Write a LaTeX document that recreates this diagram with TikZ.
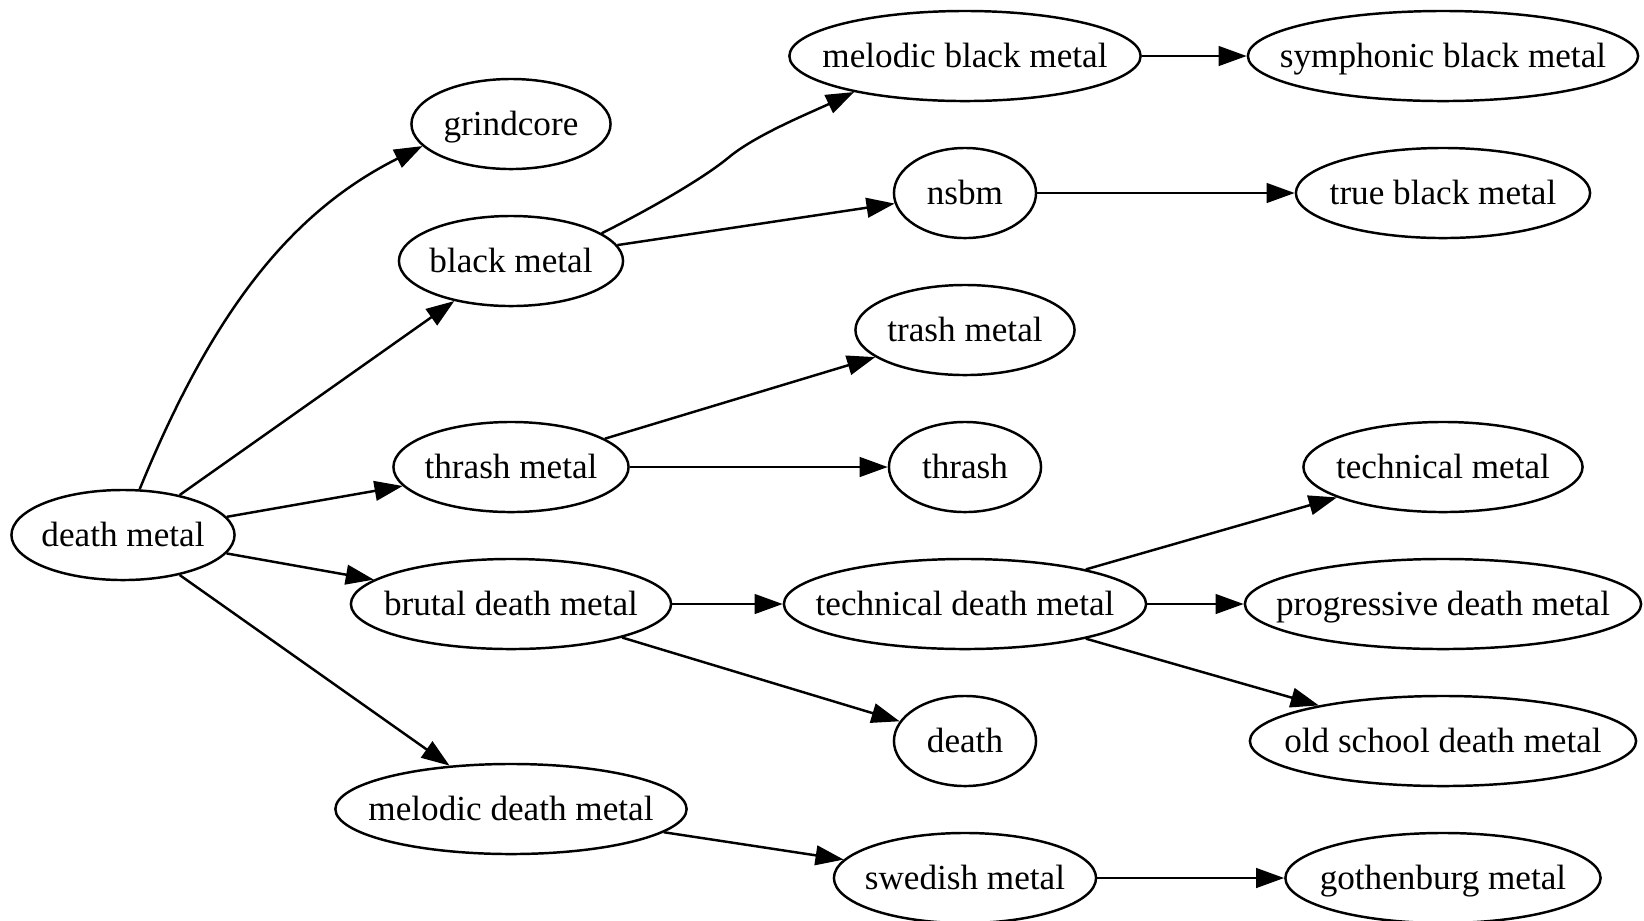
\documentclass[tikz,border=0pt]{standalone}
\usepackage{fontspec}
\setmainfont{Liberation Serif}
\usepackage{tikz}
\usetikzlibrary{arrows.meta, shapes.geometric}

\newcommand{\genrelabel}[1]{\makebox[0pt]{\rule[-2.7pt]{0pt}{12pt}#1}}

\begin{document}
\begin{tikzpicture}[x=0.01cm, y=-0.01cm,
  genre/.style={ellipse, draw, line width=0.7pt, inner sep=0pt,
    minimum height=0.9cm, minimum width=#1, font=\fontsize{10}{12}\selectfont},
  edge/.style={line width=0.7pt, -{Triangle[length=8pt, width=5.6pt]}}]
  \useasboundingbox (0,0) rectangle (1644,920);

  % Root
  \node[genre=2.23cm] (dm) at (123,535) {\genrelabel{death metal}};

  % First level
  \node[genre=1.99cm] (gc) at (511,124) {\genrelabel{grindcore}};
  \node[genre=2.24cm] (bm) at (511,261) {\genrelabel{black metal}};
  \node[genre=2.35cm] (tm) at (511,467) {\genrelabel{thrash metal}};
  \node[genre=3.20cm] (bdm) at (511,604) {\genrelabel{brutal death metal}};
  \node[genre=3.51cm] (mdm) at (511,809) {\genrelabel{melodic death metal}};

  % Second level
  \node[genre=3.51cm] (mbm) at (965,56) {\genrelabel{melodic black metal}};
  \node[genre=1.42cm] (nsbm) at (965,193) {\genrelabel{nsbm}};
  \node[genre=2.19cm] (trm) at (965,330) {\genrelabel{trash metal}};
  \node[genre=1.52cm] (thr) at (965,467) {\genrelabel{thrash}};
  \node[genre=3.62cm] (tdm) at (965,604) {\genrelabel{technical death metal}};
  \node[genre=1.42cm] (dth) at (965,741) {\genrelabel{death}};
  \node[genre=2.62cm] (swm) at (965,878) {\genrelabel{swedish metal}};

  % Third level
  \node[genre=3.90cm] (sbm) at (1443,56) {\genrelabel{symphonic black metal}};
  \node[genre=2.94cm] (tbm) at (1443,193) {\genrelabel{true black metal}};
  \node[genre=2.79cm] (tcm) at (1443,467) {\genrelabel{technical metal}};
  \node[genre=3.96cm] (pdm) at (1443,604) {\genrelabel{progressive death metal}};
  \node[genre=3.86cm] (osdm) at (1443,741) {\genrelabel{old school death metal}};
  \node[genre=3.15cm] (gbm) at (1443,878) {\genrelabel{gothenburg metal}};

  % Edges from death metal
  \draw[edge] (dm.70) .. controls (215,305) and (295,210) .. (gc.194);
  \draw[edge] (dm) -- (bm);
  \draw[edge] (dm) -- (tm);
  \draw[edge] (dm) -- (bdm);
  \draw[edge] (dm) -- (mdm);

  % Edges from the first level
  \draw[edge] (bm.17) .. controls (648,210) and (701,180) .. (728,158)
    .. controls (755,135) and (812,112) .. (mbm.198);
  \draw[edge] (bm) -- (nsbm);
  \draw[edge] (tm) -- (trm);
  \draw[edge] (tm) -- (thr);
  \draw[edge] (bdm) -- (tdm);
  \draw[edge] (bdm) -- (dth);
  \draw[edge] (mdm) -- (swm);

  % Edges from the second level
  \draw[edge] (mbm) -- (sbm);
  \draw[edge] (nsbm) -- (tbm);
  \draw[edge] (tdm) -- (tcm);
  \draw[edge] (tdm) -- (pdm);
  \draw[edge] (tdm) -- (osdm);
  \draw[edge] (swm) -- (gbm);

\end{tikzpicture}
\end{document}
